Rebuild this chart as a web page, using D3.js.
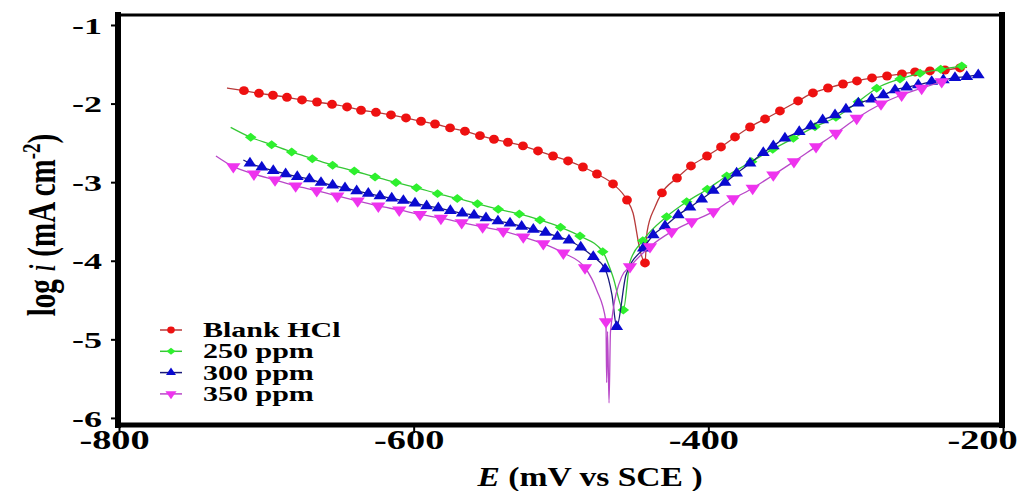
<!DOCTYPE html>
<html lang="en">
<head>
<meta charset="UTF-8">
<script src="https://d3js.org/d3.v7.min.js"></script>
<style>
  body { margin: 0; background: #fff; }
  svg text { font-family: "Liberation Serif", "Times New Roman", serif; font-weight: bold; fill: #000; }
</style>
<title>Tafel plot</title>
</head>
<body>
<svg id="chart" width="1021" height="491"></svg>
<script>
const xTicks = [-800, -600, -400, -200];
const yTicks = [-1, -2, -3, -4, -5, -6];
const seriesNames = ["Blank HCl", "250 ppm", "300 ppm", "350 ppm"];

// [E (mV vs SCE), log i] at the plotted markers
const blankPts = [[-715.2,-1.836],[-705.0,-1.869],[-695.5,-1.894],[-686.0,-1.920],[-675.8,-1.954],[-665.6,-1.980],[-655.4,-2.009],[-645.2,-2.043],[-635.7,-2.085],[-625.6,-2.111],[-615.4,-2.145],[-605.2,-2.183],[-595.0,-2.225],[-585.5,-2.260],[-575.3,-2.310],[-565.2,-2.352],[-555.0,-2.408],[-545.5,-2.454],[-536.0,-2.492],[-525.8,-2.539],[-515.6,-2.603],[-505.4,-2.667],[-495.2,-2.730],[-485.1,-2.807],[-475.6,-2.896],[-464.7,-3.023],[-455.2,-3.227],[-443.0,-4.028],[-431.5,-3.137],[-421.3,-2.947],[-411.8,-2.794],[-400.9,-2.667],[-391.4,-2.552],[-381.9,-2.425],[-371.7,-2.298],[-361.5,-2.196],[-351.4,-2.094],[-339.1,-1.967],[-329.0,-1.865],[-318.8,-1.802],[-308.6,-1.751],[-299.1,-1.712],[-288.9,-1.674],[-278.7,-1.649],[-268.6,-1.623],[-259.7,-1.598],[-249.6,-1.585],[-239.4,-1.573],[-229.2,-1.547]];
const ppm250Pts = [[-710.6,-2.429],[-696.4,-2.523],[-682.8,-2.616],[-668.8,-2.701],[-655.0,-2.785],[-640.3,-2.858],[-626.2,-2.934],[-612.0,-3.004],[-598.1,-3.070],[-583.8,-3.146],[-570.4,-3.207],[-556.7,-3.275],[-542.6,-3.344],[-528.3,-3.405],[-514.3,-3.481],[-500.3,-3.574],[-487.1,-3.685],[-471.7,-3.884],[-457.7,-4.626],[-444.5,-3.744],[-428.3,-3.439],[-414.7,-3.250],[-400.7,-3.090],[-387.5,-2.921],[-370.6,-2.739],[-356.3,-2.581],[-342.3,-2.442],[-327.6,-2.294],[-313.4,-2.174],[-298.2,-1.976],[-285.7,-1.805],[-269.9,-1.687],[-256.3,-1.615],[-242.3,-1.564],[-228.0,-1.522]];
const ppm300Pts = [[-711.1,-2.760],[-703.1,-2.811],[-695.3,-2.854],[-686.9,-2.896],[-679.0,-2.930],[-670.8,-2.959],[-662.9,-3.006],[-655.0,-3.040],[-646.6,-3.074],[-638.7,-3.112],[-630.8,-3.144],[-622.9,-3.176],[-614.9,-3.205],[-607.0,-3.235],[-599.1,-3.269],[-591.2,-3.303],[-583.3,-3.328],[-575.1,-3.363],[-567.0,-3.396],[-559.0,-3.421],[-550.9,-3.456],[-542.8,-3.496],[-534.6,-3.523],[-526.7,-3.564],[-518.8,-3.602],[-510.5,-3.640],[-502.4,-3.693],[-494.6,-3.739],[-486.6,-3.828],[-478.1,-3.948],[-470.1,-4.104],[-462.2,-4.839],[-444.1,-3.841],[-437.4,-3.672],[-429.4,-3.557],[-420.4,-3.417],[-412.5,-3.319],[-404.5,-3.218],[-396.6,-3.108],[-388.7,-3.006],[-380.8,-2.887],[-371.7,-2.760],[-362.7,-2.625],[-355.9,-2.539],[-348.0,-2.442],[-338.3,-2.358],[-330.5,-2.285],[-322.4,-2.209],[-314.0,-2.145],[-306.6,-2.073],[-298.2,-1.996],[-289.1,-1.945],[-281.2,-1.891],[-273.3,-1.827],[-265.4,-1.793],[-257.5,-1.763],[-248.4,-1.721],[-240.5,-1.700],[-232.6,-1.671],[-224.6,-1.658],[-216.8,-1.636]];
const ppm350Pts = [[-722.4,-2.803],[-708.4,-2.896],[-694.1,-2.972],[-680.1,-3.048],[-665.8,-3.108],[-651.8,-3.176],[-638.0,-3.239],[-624.0,-3.303],[-609.8,-3.354],[-595.7,-3.411],[-581.5,-3.459],[-567.4,-3.515],[-553.2,-3.570],[-539.2,-3.623],[-525.6,-3.697],[-512.0,-3.783],[-498.4,-3.901],[-483.7,-4.089],[-469.5,-4.775],[-453.2,-4.075],[-439.6,-3.821],[-424.9,-3.630],[-411.3,-3.503],[-396.6,-3.375],[-383.1,-3.211],[-369.9,-3.078],[-355.9,-2.908],[-341.9,-2.739],[-326.9,-2.548],[-313.4,-2.378],[-299.3,-2.187],[-282.8,-2.005],[-268.8,-1.891],[-255.2,-1.805],[-241.6,-1.721]];

// extra points that only the fitted line passes through (line ends, dip at Ecorr)
const blankFit = [[-726.7,-1.802],[-451.1,-3.392],[-446.4,-3.861],[-441.6,-3.635],[-436.2,-3.316],[-224.4,-1.540]];
const ppm250Fit = [[-724.2,-2.302],[-464.7,-4.206],[-453.2,-4.015]];
const ppm300Fit = [[-715.6,-2.718],[-465.4,-4.435],[-455.9,-4.181]];
const ppm350Fit = [[-734.2,-2.667],[-475.8,-4.372],[-469.0,-5.55],[-468.4,-4.90],[-467.4,-5.81],[-466.4,-4.90],[-458.8,-4.202]];

const svg = d3.select("#chart");
const SX = 1.42; // the original figure is stretched sideways

const x = d3.scaleLinear().domain([-800, -200]).range([119, 1003]);
const y = d3.scaleLinear().domain([-6.09, -0.873]).range([425, 15]);

const series = [
    { name: seriesNames[0], pts: blankPts, fit: blankFit, fill: "#ee1111", stroke: "#b83a3a",
      type: d3.symbolCircle, size: 62, rot: 0, sx: 1.1 },
    { name: seriesNames[1], pts: ppm250Pts, fit: ppm250Fit, fill: "#2ef02e", stroke: "#35c835",
      type: d3.symbolSquare, size: 40, rot: 45, sx: 1.3 },
    { name: seriesNames[2], pts: ppm300Pts, fit: ppm300Fit, fill: "#0a0ad0", stroke: "#1a1a7a",
      type: d3.symbolTriangle, size: 54, rot: 0, sx: 1.15 },
    { name: seriesNames[3], pts: ppm350Pts, fit: ppm350Fit, fill: "#ee33ee", stroke: "#b848c8",
      type: d3.symbolTriangle, size: 62, rot: 180, sx: 1.2 }
];

// y axis
const gy = svg.append("g")
    .attr("transform", "translate(119,0)")
    .call(d3.axisLeft(y).tickValues(yTicks).tickSize(8).tickFormat(d => String(d)));
gy.select(".domain").remove();
gy.selectAll(".tick line").attr("stroke", "#000").attr("stroke-width", 2);
gy.selectAll(".tick text")
    .attr("font-size", 24)
    .attr("x", -17 / 1.5)
    .attr("dy", "0.34em")
    .attr("transform", "scale(1.5,1)");

// x axis
const gx = svg.append("g")
    .attr("transform", "translate(0,425)")
    .call(d3.axisBottom(x).tickValues(xTicks).tickSize(8).tickFormat(d => String(d)));
gx.select(".domain").remove();
gx.selectAll(".tick line").attr("stroke", "#000").attr("stroke-width", 2);
gx.selectAll(".tick text")
    .attr("font-size", 27)
    .attr("y", 24)
    .attr("dy", 0)
    .attr("x", d => (d === -200 ? -21 : -5) / SX)
    .attr("transform", `scale(${SX},1)`);

// frame
const frame = svg.append("g").attr("stroke", "#000").attr("stroke-linecap", "square");
frame.append("line").attr("x1", 118).attr("x2", 118).attr("y1", 15).attr("y2", 425).attr("stroke-width", 6);
frame.append("line").attr("x1", 118).attr("x2", 1002).attr("y1", 425).attr("y2", 425).attr("stroke-width", 5);
frame.append("line").attr("x1", 1002).attr("x2", 1002).attr("y1", 15).attr("y2", 425).attr("stroke-width", 6);
frame.append("line").attr("x1", 118).attr("x2", 1002).attr("y1", 15).attr("y2", 15).attr("stroke-width", 3);

// curves and markers
const line = d3.line()
    .x(d => x(d[0]))
    .y(d => y(d[1]))
    .curve(d3.curveMonotoneX);

series.forEach(s => {
    const all = s.pts.concat(s.fit).sort((a, b) => a[0] - b[0]);
    const g = svg.append("g");
    g.append("path")
        .attr("d", line(all))
        .attr("fill", "none")
        .attr("stroke", s.stroke)
        .attr("stroke-width", 1.3);
    const sym = d3.symbol().type(s.type).size(s.size);
    g.selectAll("path.pt")
        .data(s.pts)
        .enter().append("path")
        .attr("class", "pt")
        .attr("d", sym)
        .attr("fill", s.fill)
        .attr("transform", d => `translate(${x(d[0])},${y(d[1])}) scale(${s.sx},1) rotate(${s.rot})`);
});

// legend
const legend = svg.append("g");
series.forEach((s, i) => {
    const cy = 330 + i * 21.3;
    legend.append("line")
        .attr("x1", 160).attr("x2", 182).attr("y1", cy).attr("y2", cy)
        .attr("stroke", s.stroke).attr("stroke-width", 1.5);
    legend.append("path")
        .attr("d", d3.symbol().type(s.type).size(s.size * 0.6))
        .attr("fill", s.fill)
        .attr("transform", `translate(171,${cy}) scale(${s.sx},1) rotate(${s.rot})`);
    legend.append("text")
        .attr("transform", `translate(203,${cy + 7}) scale(1.5,1)`)
        .attr("font-size", 20)
        .text(s.name);
});

// axis titles
const xt = svg.append("text")
    .attr("transform", "translate(590,486) scale(1.2,1)")
    .attr("text-anchor", "middle")
    .attr("font-size", 28);
xt.append("tspan").attr("font-style", "italic").text("E");
xt.append("tspan").text(" (mV vs SCE )");

const yt = svg.append("text")
    .attr("transform", "translate(55,225) scale(1.35,1) rotate(-90)")
    .attr("text-anchor", "middle")
    .attr("font-size", 29);
yt.append("tspan").text("log ");
yt.append("tspan").attr("font-style", "italic").attr("font-weight", "normal").text("i");
yt.append("tspan").text(" (mA cm");
yt.append("tspan").attr("font-size", 19).attr("dy", -11).text("-2");
yt.append("tspan").attr("dy", 11).text(")");
</script>
</body>
</html>
